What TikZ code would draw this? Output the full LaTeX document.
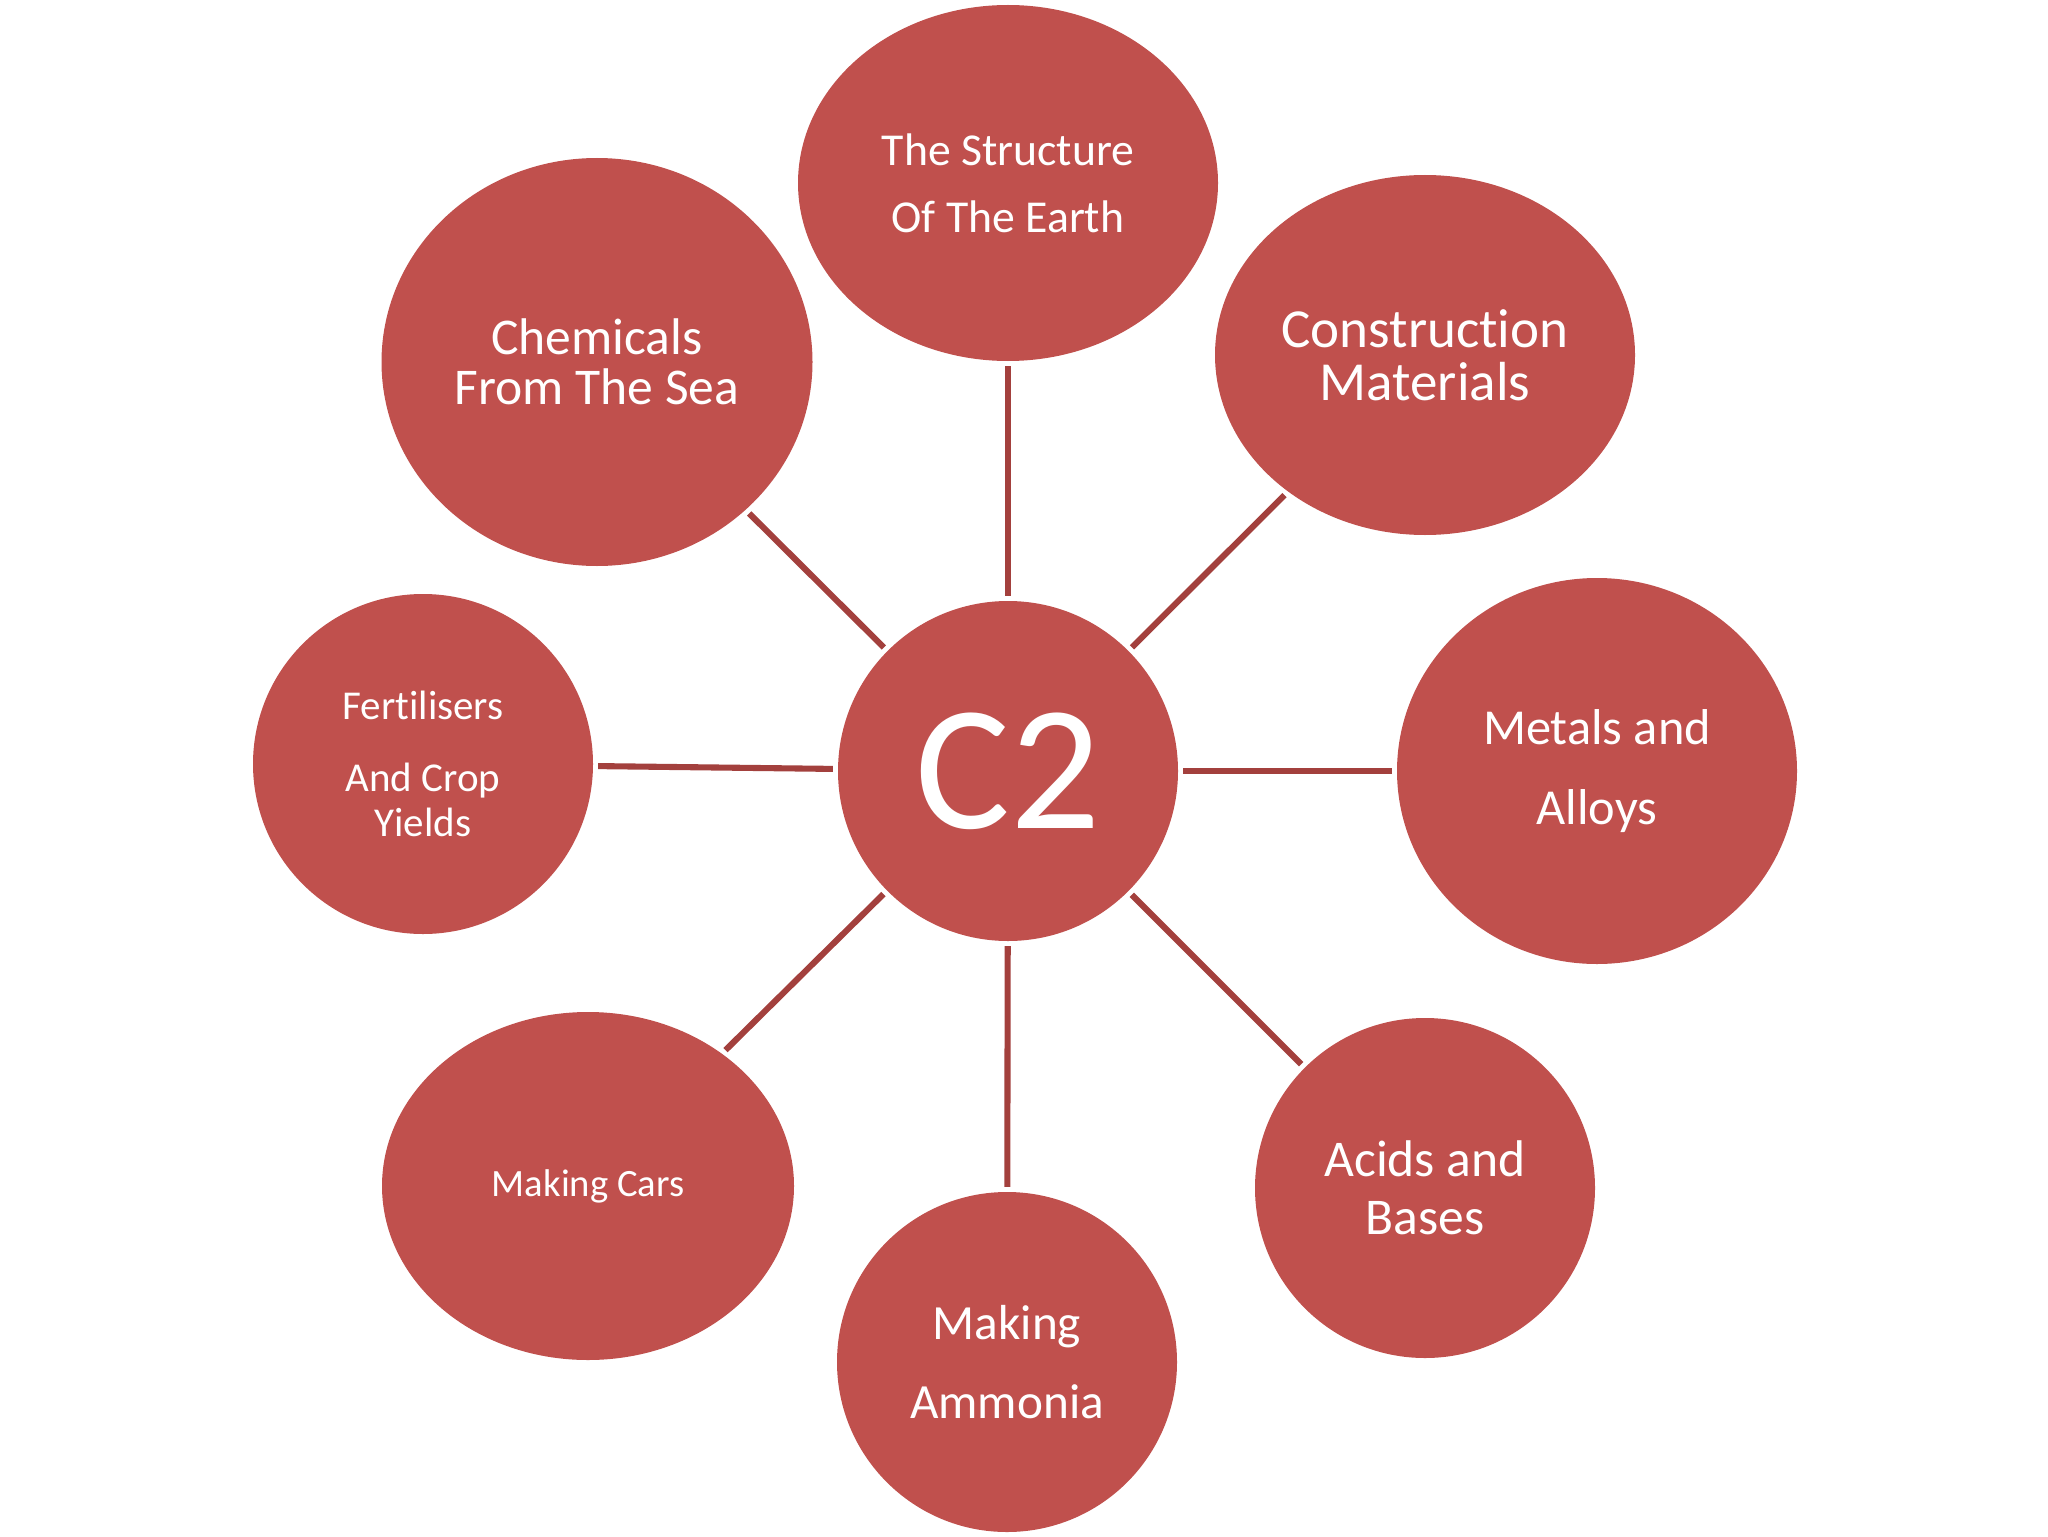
\documentclass[tikz,border=0pt]{standalone}
\usepackage{fontspec}
\setmainfont{Carlito}[RawFeature={-liga;-clig;-calt;-dlig}]
\usetikzlibrary{shapes.geometric,positioning}

\definecolor{topicred}{RGB}{192,80,77}
\definecolor{linkred}{RGB}{163,64,61}

\begin{document}
\begin{tikzpicture}[shorten >=2pt,shorten <=2pt,
                    every edge/.style={draw=linkred,line width=2.6pt}]
	  \tikzstyle{topic}=[ellipse,fill=topicred,text=white,align=center,inner sep=0pt]
	  \tikzstyle{round topic}=[topic,minimum width=5.1cm,minimum height=5.1cm]

	  \useasboundingbox (0,0) rectangle (30.72,-23.04);

	  \node[round topic,font=\fontsize{76}{78}\selectfont] (c2) at (15.12,-11.565) {C2};

	  \node[topic,minimum width=6.3cm,minimum height=5.34cm,font=\fontsize{19.5}{28.6}\selectfont]
	      (earth) at (15.12,-2.745) {The Structure\\Of The Earth};
	  \node[topic,minimum width=6.465cm,minimum height=6.12cm,font=\fontsize{22}{21.5}\selectfont]
	      (sea) at (8.955,-5.43) {Chemicals\\From The Sea};
	  \node[topic,minimum width=6.3cm,minimum height=5.4cm,font=\fontsize{23.5}{22.6}\selectfont]
	      (build) at (21.375,-5.325) {Construction\\Materials};
	  \node[topic,minimum width=6.0cm,minimum height=5.79cm,font=\fontsize{21.5}{34}\selectfont]
	      (metal) at (23.955,-11.565) {Metals and\\Alloys};
	  \node[round topic,font=\fontsize{22}{24.7}\selectfont]
	      (acid) at (21.375,-17.82) {Acids and\\Bases};
	  \node[round topic,font=\fontsize{21}{33.7}\selectfont]
	      (ammonia) at (15.105,-20.43) {Making\\Ammonia};
	  \node[topic,minimum width=6.18cm,minimum height=5.22cm,font=\fontsize{16.5}{18}\selectfont]
	      (cars) at (8.82,-17.79) {Making Cars};
	  \node[round topic,font=\fontsize{17.5}{19.2}\selectfont]
	      (fert) at (6.345,-11.46) {Fertilisers\\[11.5pt]And Crop\\Yields};

	  \path (c2) edge (earth)
	  (c2) edge (build)
	  (c2) edge (metal)
	  (c2) edge (acid)
	  (c2) edge (ammonia)
	  (c2) edge (cars)
	  (c2) edge (fert)
	  (c2) edge (sea);
\end{tikzpicture}
\end{document}
